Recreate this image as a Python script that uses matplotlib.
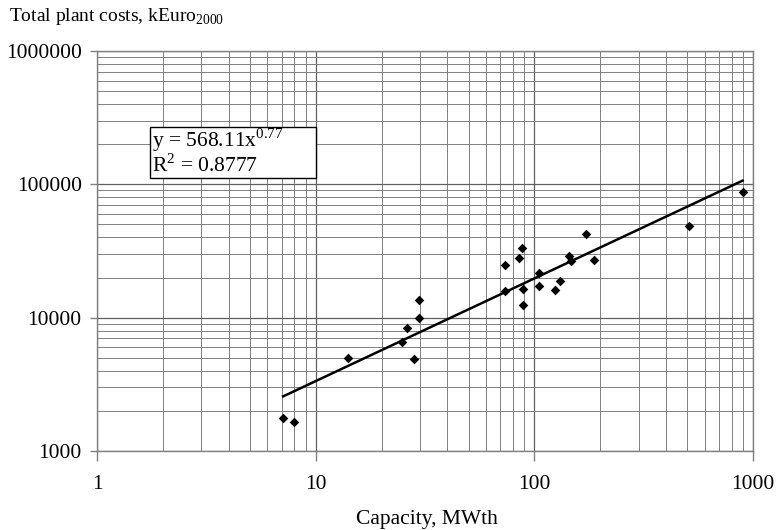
import numpy as np
import matplotlib
matplotlib.use("Agg")
import matplotlib.pyplot as plt
from matplotlib.patches import Rectangle
from matplotlib.ticker import LogLocator, FixedLocator, FixedFormatter, NullFormatter

plt.rcParams["font.family"] = ["Liberation Serif", "DejaVu Serif"]
plt.rcParams["mathtext.fontset"] = "custom"
plt.rcParams["mathtext.rm"] = "Liberation Serif"

# plant capacity (MWth) and total plant costs (kEuro 2000)
capacity = [7.1, 8.0, 14.0, 24.8, 26.2, 28.1, 29.6, 29.6,
            73.6, 73.6, 85.3, 87.8, 89, 89, 105, 105,
            124.7, 131, 143.5, 147.5, 172, 187, 511, 896]
costs = [1770, 1640, 4950, 6560, 8400, 4890, 13600, 9980,
         24700, 15900, 27900, 33400, 16300, 12400, 21500, 17300,
         16100, 18700, 28800, 26400, 42600, 26900, 48700, 87500]

# power-law trend y = a * x^b
fit_a = 568.11
fit_b = 0.77
fit_r2 = 0.8777

x_ticks = [1, 10, 100, 1000]
y_ticks = [1000, 10000, 100000, 1000000]

fig = plt.figure(figsize=(7.78, 5.30), dpi=100)
ax = fig.add_axes([0.1247, 0.149, 0.8432, 0.7548])

ax.set_xscale("log")
ax.set_yscale("log")
ax.set_xlim(1, 1000)
ax.set_ylim(1000, 1000000)

ax.xaxis.set_major_locator(FixedLocator(x_ticks))
ax.xaxis.set_major_formatter(FixedFormatter([str(v) for v in x_ticks]))
ax.yaxis.set_major_locator(FixedLocator(y_ticks))
ax.yaxis.set_major_formatter(FixedFormatter([str(v) for v in y_ticks]))
ax.xaxis.set_minor_locator(LogLocator(base=10, subs=np.arange(2, 10)))
ax.yaxis.set_minor_locator(LogLocator(base=10, subs=np.arange(2, 10)))
ax.xaxis.set_minor_formatter(NullFormatter())
ax.yaxis.set_minor_formatter(NullFormatter())

ax.grid(True, which="major", color="#606060", linewidth=0.9)
ax.grid(True, which="minor", color="#808080", linewidth=0.7)
ax.set_axisbelow(True)

for s in ax.spines.values():
    s.set_color("#808080")
    s.set_linewidth(1.0)

ax.tick_params(which="major", axis="x", length=7, width=1, color="#808080",
               pad=10, labelsize=15.5)
ax.tick_params(which="major", axis="y", length=5, width=1, color="#808080",
               pad=6, labelsize=15.5)
ax.tick_params(which="minor", length=0)

# data points
ax.scatter(capacity, costs, marker="D", s=24, color="black", zorder=3,
           linewidths=0)

# trend line across data range
xs = np.linspace(min(capacity), max(capacity), 200)
ax.plot(xs, fit_a * xs ** fit_b, color="black", linewidth=1.8, zorder=3)

# equation label in a framed box
ax.add_patch(Rectangle((0.081, 0.683), 0.253, 0.127, transform=ax.transAxes,
                       facecolor="white", edgecolor="black", linewidth=1.0,
                       zorder=4))
ax.text(0.084, 0.812,
        "y = %.2fx$^{%.2f}$\nR$^{2}$ = %.4f" % (fit_a, fit_b, fit_r2),
        transform=ax.transAxes, fontsize=15.5, va="top", ha="left",
        linespacing=1.0, zorder=5)

fig.text(0.012, 0.968, r"Total plant costs, kEuro$_{\mathregular{2000}}$",
         fontsize=14, ha="left", va="center")
fig.text(0.549, 0.019, "Capacity, MWth", fontsize=15.5, ha="center",
         va="center")

fig.savefig("out.png", dpi=100)
